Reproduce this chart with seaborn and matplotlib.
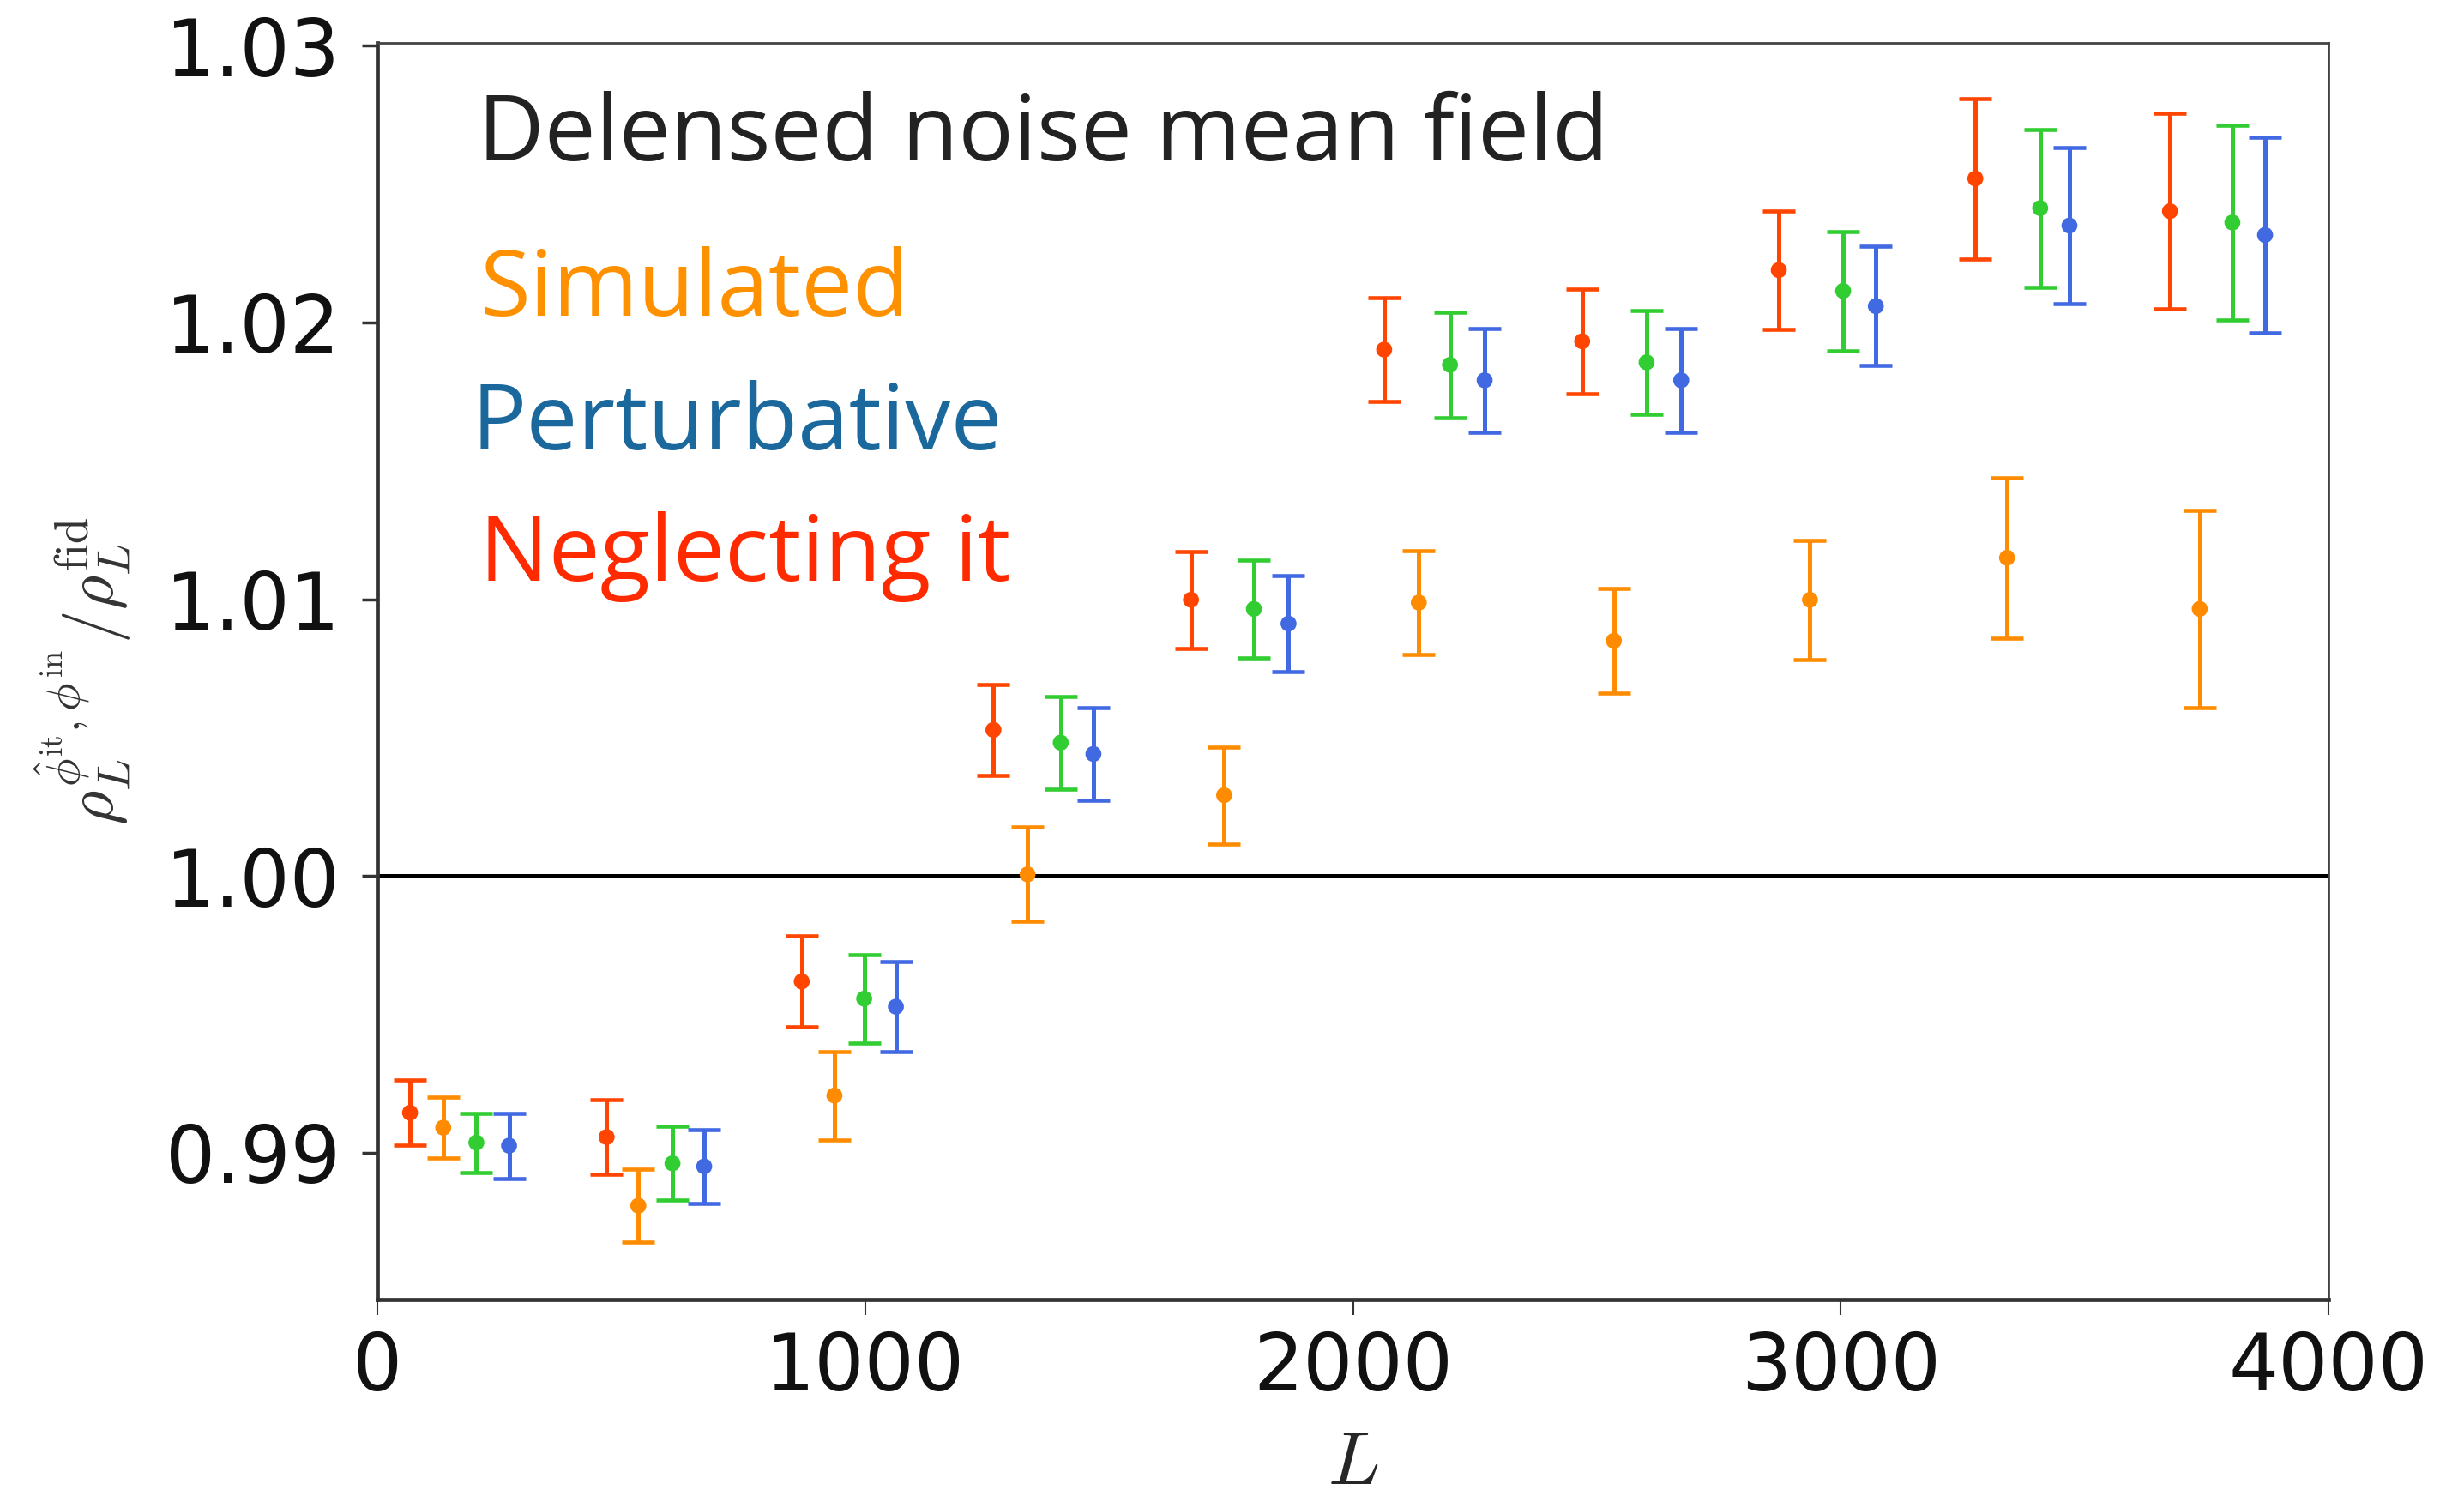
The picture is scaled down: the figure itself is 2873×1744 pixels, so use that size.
import numpy as np
import pandas as pd
import matplotlib
matplotlib.use("Agg")
import matplotlib.pyplot as plt
import seaborn as sns

# ---------------- data ----------------
L_neglect = [67, 470, 870, 1263, 1668, 2064, 2470, 2873, 3276, 3675]
L_sim     = [135, 535, 937, 1333, 1736, 2135, 2535, 2937, 3341, 3736]
L_green   = [203, 605, 998, 1401, 1797, 2199, 2602, 3005, 3409, 3803]
L_pert    = [270, 670, 1063, 1468, 1868, 2270, 2673, 3072, 3469, 3870]

val_neglect = [0.99145, 0.99057, 0.99619, 1.00528, 1.00998, 1.01902, 1.01932, 1.02189, 1.02520, 1.02402]
err_neglect = [0.00118, 0.00134, 0.00165, 0.00165, 0.00175, 0.00187, 0.00188, 0.00215, 0.00290, 0.00353]
val_sim     = [0.99091, 0.98809, 0.99207, 1.00006, 1.00292, 1.00988, 1.00850, 1.00998, 1.01150, 1.00965]
err_sim     = [0.00109, 0.00131, 0.00160, 0.00170, 0.00175, 0.00187, 0.00188, 0.00215, 0.00290, 0.00356]
val_green   = [0.99037, 0.98962, 0.99557, 1.00482, 1.00965, 1.01847, 1.01856, 1.02114, 1.02413, 1.02361]
err_green   = [0.00107, 0.00133, 0.00160, 0.00168, 0.00176, 0.00190, 0.00188, 0.00215, 0.00285, 0.00352]
val_pert    = [0.99026, 0.98951, 0.99528, 1.00441, 1.00912, 1.01791, 1.01791, 1.02059, 1.02350, 1.02316]
err_pert    = [0.00118, 0.00134, 0.00162, 0.00168, 0.00175, 0.00188, 0.00187, 0.00215, 0.00283, 0.00353]

series_names = ["Neglecting it", "Simulated", "Green", "Perturbative"]
series_colors = ["#ff4500", "#ff8c00", "#32cd32", "#4169e1"]

x_ticks = [0, 1000, 2000, 3000, 4000]
y_ticks = [0.99, 1.00, 1.01, 1.02, 1.03]
y_tick_labels = ["0.99", "1.00", "1.01", "1.02", "1.03"]

annot_texts = ["Delensed noise mean field", "Simulated", "Perturbative", "Neglecting it"]
annot_colors = ["#222222", "#ff9100", "#1b689c", "#ff2a00"]

# ---------------- build table ----------------
frames = []
for name, Ls, vs, es in zip(series_names,
                            [L_neglect, L_sim, L_green, L_pert],
                            [val_neglect, val_sim, val_green, val_pert],
                            [err_neglect, err_sim, err_green, err_pert]):
    frames.append(pd.DataFrame({"L": Ls, "ratio": vs, "err": es, "series": name}))
df = pd.concat(frames, ignore_index=True)

# ---------------- figure ----------------
sns.set_theme(style="ticks")
plt.rcParams["font.family"] = ["DejaVu Sans"]
plt.rcParams["mathtext.fontset"] = "cm"

W, H = 2873, 1744
fig = plt.figure(figsize=(W / 100, H / 100), dpi=100)
ax = fig.add_axes([440 / W, 1 - 1515 / H, 2275 / W, 1465 / H])

ax.axhline(1.0, color="black", lw=3.6, zorder=1)

palette = dict(zip(series_names, series_colors))
for name in series_names:
    sub = df[df["series"] == name]
    ax.errorbar(sub["L"], sub["ratio"], yerr=sub["err"], fmt="none",
                ecolor=palette[name], elinewidth=3.6, capsize=14, capthick=3.3,
                zorder=2)
sns.scatterplot(data=df, x="L", y="ratio", hue="series", palette=palette,
                s=180, edgecolor="none", legend=False, ax=ax, zorder=3)

ax.set_xlim(0, 4000)
ax.set_ylim(0.9847, 1.0301)
ax.set_xticks(x_ticks)
ax.set_xticklabels([str(t) for t in x_ticks])
ax.set_yticks(y_ticks)
ax.set_yticklabels(y_tick_labels)
ax.tick_params(axis="both", labelsize=66, colors="#111111", direction="out")
ax.tick_params(axis="y", length=13, width=2.5, pad=18, color="#333333")
ax.tick_params(axis="x", length=13, width=1.5, pad=12, color="#333333")

for s in ["left", "bottom"]:
    ax.spines[s].set_linewidth(3.4)
    ax.spines[s].set_color("#333333")
for s in ["top", "right"]:
    ax.spines[s].set_linewidth(2.0)
    ax.spines[s].set_color("#444444")

ax.set_xlabel(r"$L$", fontsize=64, labelpad=16)
ax.set_ylabel(r"$\rho_L^{\hat{\phi}^{\rm it},\phi^{\rm in}}/\rho_L^{\rm fid}$",
              fontsize=56, color="#333333")
ax.yaxis.set_label_coords(-0.125, 0.5)

ys = [0.9068, 0.7829, 0.6767, 0.5719]
xs = [0.0515, 0.0525, 0.048, 0.0525]
for t, c, x, y in zip(annot_texts, annot_colors, xs, ys):
    ax.text(x, y, t, color=c, fontsize=77, fontweight="medium",
            family=["Open Sans", "DejaVu Sans"],
            transform=ax.transAxes, ha="left", va="baseline")

fig.savefig("out.png", dpi=100)
